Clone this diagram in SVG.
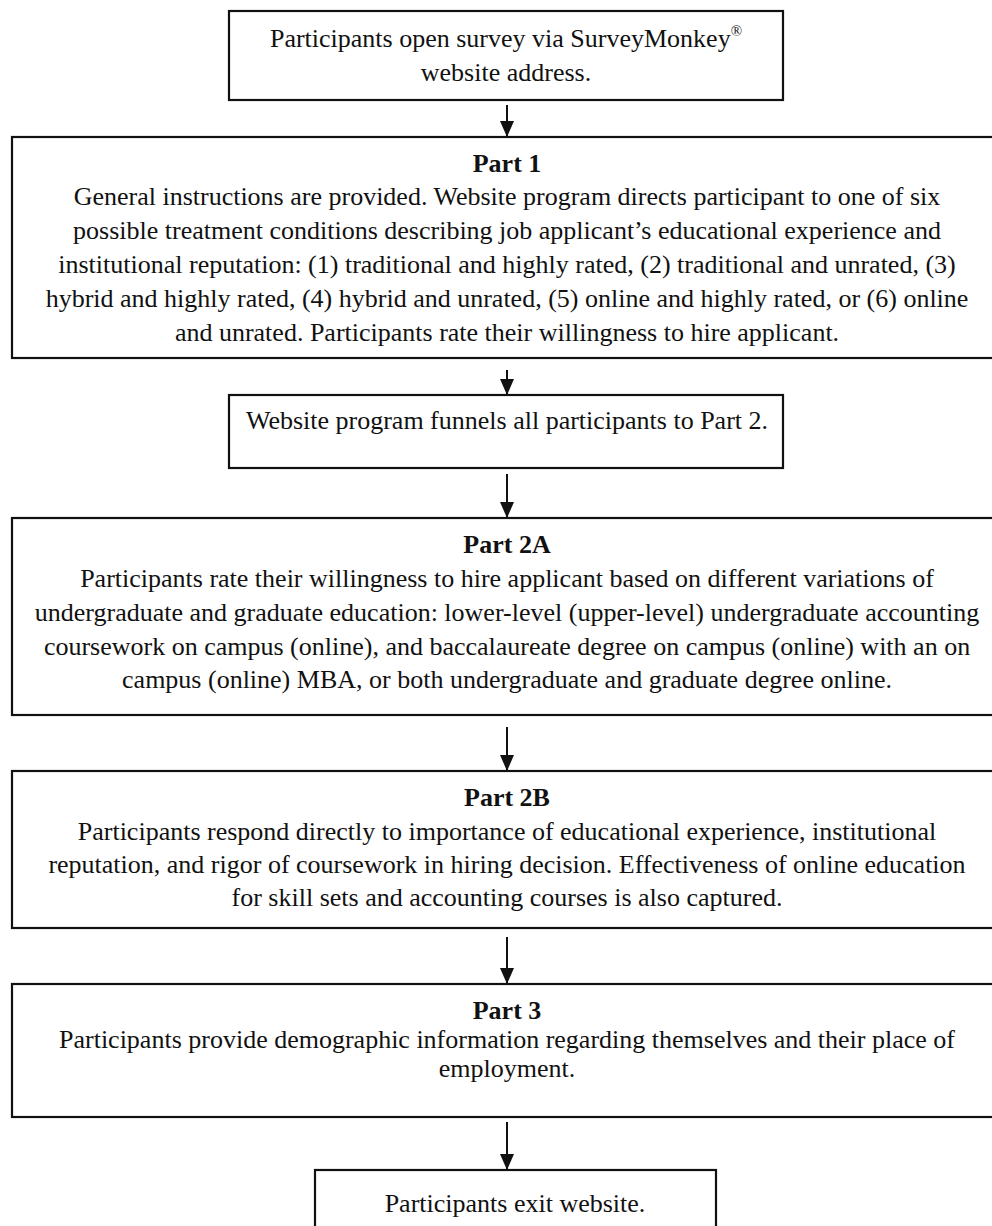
<svg xmlns="http://www.w3.org/2000/svg" width="992" height="1226" viewBox="0 0 992 1226">
<style>
  .box { fill: #fff; stroke: #111; stroke-width: 2.2; }
  .t { font-family: "Liberation Serif", "Times New Roman", serif; font-size: 26px; fill: #111; text-anchor: middle; }
  .h { font-weight: bold; }
  .conn { stroke: #111; stroke-width: 2; fill: none; }
</style>
<defs>
  <marker id="arr" markerUnits="userSpaceOnUse" markerWidth="16" markerHeight="14" refX="16" refY="7" orient="auto" viewBox="0 0 16 14">
    <path d="M0,0 L16,7 L0,14 Z" fill="#111"/>
  </marker>
</defs>
<rect width="992" height="1226" fill="#fff"/>

<g id="node-start">
  <rect class="box" x="229" y="11" width="554" height="89"/>
  <text class="t" x="506" y="47">Participants open survey via SurveyMonkey<tspan font-size="15" dy="-11">®</tspan></text>
  <text class="t" x="506" y="81">website address.</text>
</g>

<g id="node-part1">
  <rect class="box" x="12" y="137" width="990" height="221"/>
  <text class="t h" x="507" y="172">Part 1</text>
  <text class="t" x="507" y="205">General instructions are provided. Website program directs participant to one of six</text>
  <text class="t" x="507" y="239">possible treatment conditions describing job applicant’s educational experience and</text>
  <text class="t" x="507" y="273">institutional reputation: (1) traditional and highly rated, (2) traditional and unrated, (3)</text>
  <text class="t" x="507" y="307">hybrid and highly rated, (4) hybrid and unrated, (5) online and highly rated, or (6) online</text>
  <text class="t" x="507" y="341">and unrated. Participants rate their willingness to hire applicant.</text>
</g>

<g id="node-funnel">
  <rect class="box" x="229" y="395" width="554" height="73"/>
  <text class="t" x="507" y="429">Website program funnels all participants to Part 2.</text>
</g>

<g id="node-part2a">
  <rect class="box" x="12" y="518" width="990" height="197"/>
  <text class="t h" x="507" y="553">Part 2A</text>
  <text class="t" x="507" y="587">Participants rate their willingness to hire applicant based on different variations of</text>
  <text class="t" x="507" y="621">undergraduate and graduate education: lower-level (upper-level) undergraduate accounting</text>
  <text class="t" x="507" y="655">coursework on campus (online), and baccalaureate degree on campus (online) with an on</text>
  <text class="t" x="507" y="688">campus (online) MBA, or both undergraduate and graduate degree online.</text>
</g>

<g id="node-part2b">
  <rect class="box" x="12" y="771" width="990" height="157"/>
  <text class="t h" x="507" y="806">Part 2B</text>
  <text class="t" x="507" y="840">Participants respond directly to importance of educational experience, institutional</text>
  <text class="t" x="507" y="873">reputation, and rigor of coursework in hiring decision. Effectiveness of online education</text>
  <text class="t" x="507" y="906">for skill sets and accounting courses is also captured.</text>
</g>

<g id="node-part3">
  <rect class="box" x="12" y="984" width="990" height="133"/>
  <text class="t h" x="507" y="1019">Part 3</text>
  <text class="t" x="507" y="1048">Participants provide demographic information regarding themselves and their place of</text>
  <text class="t" x="507" y="1077">employment.</text>
</g>

<g id="node-exit">
  <rect class="box" x="315" y="1170" width="401" height="70"/>
  <text class="t" x="515" y="1212">Participants exit website.</text>
</g>

<g id="connectors">
  <line class="conn" x1="507" y1="105" x2="507" y2="137" marker-end="url(#arr)"/>
  <line class="conn" x1="507" y1="370" x2="507" y2="395" marker-end="url(#arr)"/>
  <line class="conn" x1="507" y1="474" x2="507" y2="518" marker-end="url(#arr)"/>
  <line class="conn" x1="507" y1="727" x2="507" y2="771" marker-end="url(#arr)"/>
  <line class="conn" x1="507" y1="937" x2="507" y2="984" marker-end="url(#arr)"/>
  <line class="conn" x1="507" y1="1122" x2="507" y2="1170" marker-end="url(#arr)"/>
</g>
</svg>
